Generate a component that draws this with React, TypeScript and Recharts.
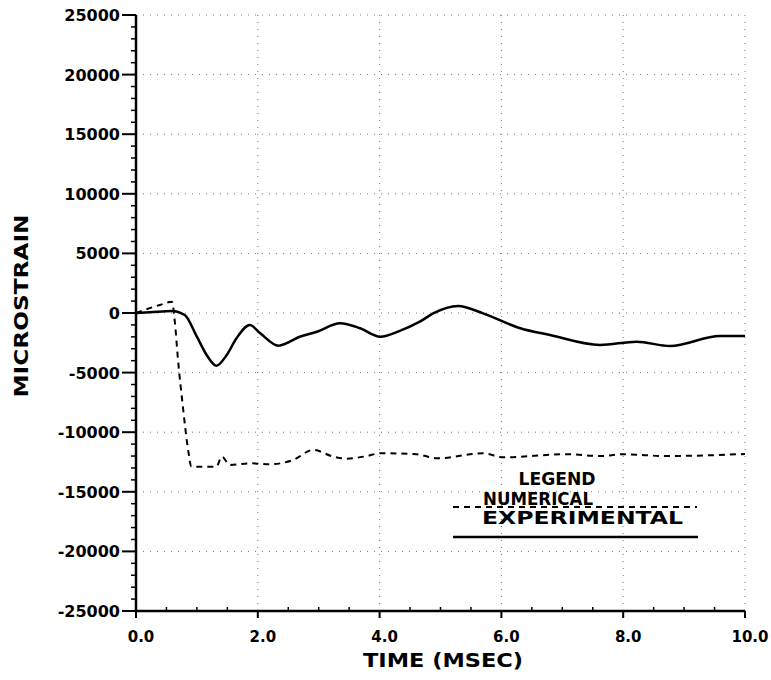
import React from "react";
import {
  LineChart, Line, XAxis, YAxis, CartesianGrid, Legend, Label,
} from "recharts";

// experimental (solid) trace, time in msec / microstrain
const expTime = [0, 0.23, 0.59, 0.8, 1.0, 1.16, 1.32, 1.49, 1.65, 1.87, 2.04, 2.34, 2.69, 2.97, 3.35, 3.68, 4.01, 4.33, 4.66, 4.88, 5.29, 5.7, 6.31, 6.8, 7.62, 8.22, 8.77, 9.59, 10.0];
const expStrain = [0, 60, 170, -170, -1990, -3520, -4420, -3520, -2120, -1010, -1700, -2740, -1990, -1570, -860, -1280, -1990, -1500, -730, -30, 590, -30, -1280, -1850, -2680, -2410, -2770, -1930, -1930];

// numerical (dashed) trace
const numTime = [0, 0.39, 0.59, 0.64, 0.69, 0.77, 0.86, 0.91, 1.32, 1.41, 1.54, 1.87, 2.2, 2.58, 2.91, 3.24, 3.46, 3.79, 4.01, 4.61, 4.94, 5.7, 6.03, 7.07, 7.62, 8.0, 8.71, 10.0];
const numStrain = [0, 670, 950, -860, -3940, -7860, -11630, -12890, -12890, -12050, -12750, -12610, -12690, -12330, -11490, -12050, -12220, -12000, -11770, -11850, -12190, -11770, -12110, -11850, -12000, -11850, -12000, -11830];

const xMajor = [0, 2, 4, 6, 8, 10];
const xTicks = [0, 0.5, 1, 1.5, 2, 2.5, 3, 3.5, 4, 4.5, 5, 5.5, 6, 6.5, 7, 7.5, 8, 8.5, 9, 9.5, 10];
const yMajor = [-25000, -20000, -15000, -10000, -5000, 0, 5000, 10000, 15000, 20000, 25000];
const yTicks: number[] = [];
for (let v = -25000; v <= 25000; v += 1000) yTicks.push(v);

const seriesNames = ["NUMERICAL", "EXPERIMENTAL"];

const expData = expTime.map((t, i) => ({ t, v: expStrain[i] }));
const numData = numTime.map((t, i) => ({ t, v: numStrain[i] }));

const FONT = "'DejaVu Sans', sans-serif";

function LeftTick(props: any) {
  const { x, y, payload } = props;
  const major = payload.value % 5000 === 0;
  if (!major) {
    return <line x1={x - 5} x2={x} y1={y} y2={y} stroke="#000" strokeWidth={1.5} />;
  }
  return (
    <g>
      <line x1={x - 14} x2={x} y1={y} y2={y} stroke="#000" strokeWidth={2} />
      <text x={x - 16} y={y + 6} textAnchor="end" fontFamily={FONT} fontWeight="bold" fontSize={16} fill="#000">
        {payload.value}
      </text>
    </g>
  );
}

function RightTick(props: any) {
  const { x, y } = props;
  return <line x1={x - 4} x2={x} y1={y} y2={y} stroke="#000" strokeWidth={1.5} />;
}

function BottomTick(props: any) {
  const { x, y, payload } = props;
  const major = xMajor.includes(payload.value);
  if (!major) {
    return <line x1={x} x2={x} y1={y - 4} y2={y} stroke="#000" strokeWidth={1.5} />;
  }
  return (
    <g>
      <line x1={x} x2={x} y1={y} y2={y + 7} stroke="#000" strokeWidth={2} />
      <text x={x + 5} y={y + 31} textAnchor="middle" fontFamily={FONT} fontWeight="bold" fontSize={15} fill="#000">
        {payload.value.toFixed(1)}
      </text>
    </g>
  );
}

function renderLegend() {
  return (
    <svg width={300} height={90} style={{ display: "block" }}>
      <text x={117} y={25} textAnchor="middle" textLength={77} lengthAdjust="spacingAndGlyphs"
        fontFamily={FONT} fontWeight="bold" fontSize={17} fill="#000">LEGEND</text>
      <line x1={13} x2={257} y1={47} y2={47} stroke="#000" strokeWidth={2} strokeDasharray="6 5" />
      <text x={43} y={45} textLength={110} lengthAdjust="spacingAndGlyphs"
        fontFamily={FONT} fontWeight="bold" fontSize={17} fill="#000">{seriesNames[0]}</text>
      <text x={42} y={64} textLength={201} lengthAdjust="spacingAndGlyphs"
        fontFamily={FONT} fontWeight="bold" fontSize={17} fill="#000">{seriesNames[1]}</text>
      <line x1={13} x2={258} y1={77} y2={77} stroke="#000" strokeWidth={2.5} />
    </svg>
  );
}

export default function App() {
  return (
    <div style={{ position: "absolute", left: 0, top: 0, background: "#fff" }}>
      <LineChart width={771} height={680} margin={{ top: 15, right: 26, bottom: 0, left: 0 }}>
        <CartesianGrid
          stroke="#777"
          strokeDasharray="1 6"
          horizontalValues={yMajor}
          verticalValues={xMajor}
        />
        <XAxis
          type="number"
          dataKey="t"
          domain={[0, 10]}
          ticks={xTicks}
          interval={0}
          height={69}
          tickSize={0}
          tickMargin={0}
          tickLine={false}
          axisLine={{ stroke: "#000", strokeWidth: 2.5 }}
          tick={<BottomTick />}
          allowDataOverflow
        >
          <Label
            content={() => (
              <text x={443} y={667} textAnchor="middle" textLength={160} lengthAdjust="spacingAndGlyphs"
                fontFamily={FONT} fontWeight="bold" fontSize={20} fill="#000">TIME (MSEC)</text>
            )}
          />
        </XAxis>
        <XAxis xAxisId="top" orientation="top" type="number" domain={[0, 10]} height={0}
          tick={false} tickLine={false} axisLine={{ stroke: "#000", strokeWidth: 2.5 }} />
        <YAxis
          type="number"
          domain={[-25000, 25000]}
          ticks={yTicks}
          interval={0}
          width={136}
          tickSize={0}
          tickMargin={0}
          tickLine={false}
          axisLine={{ stroke: "#000", strokeWidth: 2.5 }}
          tick={<LeftTick />}
          allowDataOverflow
        >
          <Label
            content={() => (
              <text x={28} y={306} transform="rotate(-90 28 306)" textAnchor="middle" textLength={183}
                lengthAdjust="spacingAndGlyphs" fontFamily={FONT} fontWeight="bold" fontSize={20} fill="#000">
                MICROSTRAIN
              </text>
            )}
          />
        </YAxis>
        <YAxis yAxisId="right" orientation="right" type="number" domain={[-25000, 25000]}
          ticks={yTicks} interval={0} width={0} tickSize={0} tickMargin={0} tickLine={false}
          axisLine={{ stroke: "#000", strokeWidth: 2.5 }} tick={<RightTick />} />
        <Legend
          layout="horizontal"
          align="center"
          verticalAlign="middle"
          content={renderLegend}
          wrapperStyle={{ left: 440, top: 460, width: 300, height: 90 }}
        />
        <Line
          data={numData}
          dataKey="v"
          name={seriesNames[0]}
          type="monotone"
          stroke="#000"
          strokeWidth={2}
          strokeDasharray="6 5"
          dot={false}
          isAnimationActive={false}
        />
        <Line
          data={expData}
          dataKey="v"
          name={seriesNames[1]}
          type="monotone"
          stroke="#000"
          strokeWidth={2.5}
          dot={false}
          isAnimationActive={false}
        />
      </LineChart>
    </div>
  );
}
